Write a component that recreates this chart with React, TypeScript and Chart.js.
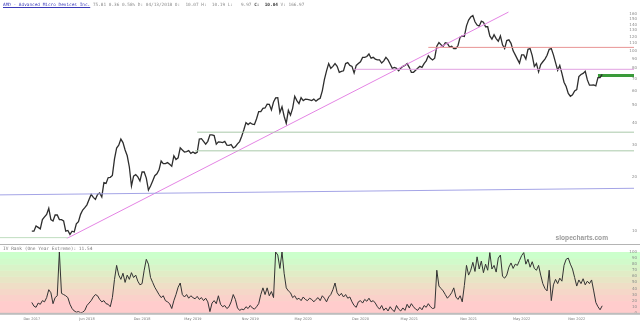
import React, { useEffect, useRef } from 'react';
import { Chart, registerables } from 'chart.js';

Chart.register(...registerables);

// Weekly closes, week 0 = first week of Dec 2017
const PRICE: number[] = [
  10.0, 10.0, 10.7, 10.5, 10.3,
  11.6, 12.0, 12.4, 13.4,
  11.6, 11.4, 12.3, 12.3,
  11.6, 11.6, 11.4, 10.0, 10.1,
  9.6, 10.0, 9.9, 11.0,
  11.3, 12.4, 13.1, 13.5,
  14.0, 15.0, 16.0, 15.4, 15.0,
  16.0, 16.3, 15.5, 18.6,
  18.4, 19.8, 19.9, 20.4, 25.2,
  28.9, 30.0, 32.4, 31.0,
  28.2, 26.2, 22.7, 17.8,
  20.2, 20.6, 20.0, 19.0, 21.3,
  21.3, 19.7, 16.9, 17.8,
  19.0, 20.3, 20.8, 21.9,
  24.5, 23.7, 23.7, 24.0,
  23.5, 22.9, 26.2, 25.0, 25.5,
  29.0, 28.2, 27.5, 27.6,
  28.0, 27.0, 27.5, 27.0, 27.4,
  32.4, 32.6, 31.5, 30.4,
  31.5, 34.2, 34.2, 33.9,
  30.4, 31.3, 31.2, 31.0, 31.5,
  30.0, 29.9, 30.2, 29.0,
  29.4, 30.5, 31.4, 33.6,
  36.5, 40.0, 39.0, 39.9, 39.2,
  39.0, 42.0, 46.0, 46.0,
  48.0, 48.2, 50.6, 50.5, 47.0,
  52.0, 54.8, 55.0, 45.5,
  49.0, 43.4, 39.6, 46.8,
  44.0, 48.0, 56.0, 53.0,
  51.0, 55.0, 53.0, 54.0, 53.8,
  53.5, 53.0, 54.0, 52.6,
  53.8, 54.6, 60.0, 69.4,
  77.4, 85.0, 80.0, 82.0, 85.0,
  82.0, 76.0, 77.0, 77.5,
  85.0, 86.0, 83.0, 82.0,
  75.3, 83.0, 85.0, 87.0, 92.0,
  92.0, 93.0, 96.0, 91.0,
  92.0, 90.0, 89.0, 89.0, 85.6,
  88.0, 92.0, 89.0, 84.5,
  80.0, 81.0, 80.0, 77.5,
  80.0, 82.0, 83.0, 85.0,
  81.0, 76.0, 76.0, 78.0, 80.0,
  82.0, 81.0, 85.0, 88.0,
  94.0, 91.0, 89.0, 91.0,
  106, 111, 108, 106, 111,
  110, 105, 106, 103,
  103, 107, 119, 121,
  120.2, 137.5, 148, 154, 157,
  145, 139, 137, 146, 144,
  136, 136, 121, 116,
  123, 117, 113, 121,
  108, 103, 114, 115,
  110, 100, 95, 90, 85.5,
  95, 95, 90, 102,
  103, 94, 82, 85,
  76.5, 84, 87, 90, 94.5,
  102, 103, 95, 86,
  78, 83, 75, 67, 63.4,
  58, 56, 57, 60,
  61, 72, 74, 75,
  77, 69, 64.5, 64.5, 64.8,
  64, 71, 71, 74,
];

const IV_RANK: number[] = [
  17, 11, 9, 16, 14, 20, 18, 25, 38, 33,
  15, 25, 28, 100, 32, 30, 28, 25, 14, 7,
  3, 1, 2, 0, 1, 4, 12, 16, 20, 26,
  30, 28, 22, 18, 20, 15, 14, 10, 25, 55,
  78, 62, 55, 65, 50, 62, 55, 66, 58, 62,
  52, 46, 48, 70, 88, 80, 58, 50, 42, 36,
  30, 25, 28, 20, 18, 15, 7, 20, 30, 42,
  49, 30, 26, 30, 24, 28, 25, 23, 27, 22,
  25, 20, 24, 18, 2, 16, 20, 15, 28, 14,
  10, 12, 7, 10, 18, 30, 22, 8, 4, 6,
  5, 10, 7, 12, 8, 6, 10, 15, 30, 41,
  30, 41, 28, 35, 25, 100, 95, 73, 100, 65,
  41, 36, 33, 25, 28, 22, 24, 20, 26, 22,
  20, 24, 22, 18, 22, 25, 20, 28, 24, 18,
  26, 30, 38, 49, 33, 28, 32, 26, 30, 24,
  26, 18, 12, 9, 18, 20, 16, 22, 19, 24,
  18, 20, 16, 10, 6, 12, 4, 8, 3, 10,
  5, 2, 12, 6, 3, 8, 4, 14, 8, 15,
  10, 6, 4, 9, 5, 12, 9, 15, 10, 7,
  8, 70, 44, 40, 36, 30, 24, 28, 33, 41,
  26, 22, 28, 18, 45, 78, 62, 70, 83, 68,
  92, 72, 85, 66, 80, 70, 99, 72, 78, 67,
  90, 95, 60, 57, 62, 75, 82, 73, 80, 78,
  86, 94, 99, 80, 88, 75, 84, 73, 70, 78,
  62, 48, 40, 36, 70, 20, 46, 55, 48, 57,
  52, 78, 88, 90, 80, 72, 58, 44, 54, 48,
  56, 46, 52, 48, 54, 36, 17, 10, 5, 11.54,
];

const TICK_WEEKS = [0, 26, 52, 76, 103, 128, 155, 178, 206, 231, 257];
const TICK_LABELS = ['Dec 2017', 'Jun 2018', 'Dec 2018', 'May 2019', 'Nov 2019', 'May 2020', 'Dec 2020', 'May 2021', 'Nov 2021', 'May 2022', 'Nov 2022'];
const PRICE_TICKS = [10, 20, 30, 40, 50, 60, 70, 80, 90, 100, 110, 120, 130, 140, 150, 160];
const IV_TICKS = [0, 10, 20, 30, 40, 50, 60, 70, 80, 90, 100];

// Drawn studies (week, price)
const TREND_X = [16.4, 224.8];
const TREND_Y = [9.1, 164];
const BLUE_X = [-15, 284];
const BLUE_Y = [15.9, 17.3];
const LEVEL_RED = { from: 187, value: 104.5 };
const LEVEL_PINK = { from: 152, value: 79 };
const LEVEL_GREEN_HI = { from: 78, value: 35.4 };
const LEVEL_GREEN_LO = { from: 77, value: 27.9 };
const LEVEL_GREEN_BASE = { from: -15, to: 17, value: 9.2 };
const LAST_LEVEL = { from: 267, value: 73 };

const X_MIN = -15;
const X_MAX = 284;
const Y_MIN = 9.1;
const Y_MAX = 178.6;

const BAND_COLORS = [
  'rgb(255,204,204)', 'rgb(255,204,204)', 'rgb(250,209,202)', 'rgb(245,215,200)',
  'rgb(239,222,198)', 'rgb(232,229,197)', 'rgb(225,236,198)', 'rgb(217,243,200)',
  'rgb(209,250,202)', 'rgb(204,255,204)',
];

const tickFont = { size: 4, family: 'DejaVu Sans' };

function seg(x0: number, x1: number, v: number) {
  return [{ x: x0, y: v }, { x: x1, y: v }];
}

export default function App() {
  const topRef = useRef<HTMLCanvasElement>(null);
  const botRef = useRef<HTMLCanvasElement>(null);

  useEffect(() => {
    document.body.style.margin = '0';
    const lastWeek = PRICE.length - 1;
    const line = (data: any[], color: string, width = 1) => ({
      data, borderColor: color, borderWidth: width, pointRadius: 0, tension: 0, fill: false,
    });

    const top = new Chart(topRef.current!, {
      type: 'line',
      data: {
        datasets: [
          line(seg(BLUE_X[0], BLUE_X[1], 0).map((p, i) => ({ x: p.x, y: BLUE_Y[i] })), '#a4a4e6', 1),
          line(seg(LEVEL_GREEN_BASE.from, LEVEL_GREEN_BASE.to, LEVEL_GREEN_BASE.value), '#b6d8b6', 1),
          line(seg(LEVEL_GREEN_HI.from, X_MAX, LEVEL_GREEN_HI.value), '#a9c9a9', 1),
          line(seg(LEVEL_GREEN_LO.from, X_MAX, LEVEL_GREEN_LO.value), '#a9c9a9', 1),
          line(seg(LEVEL_PINK.from, X_MAX, LEVEL_PINK.value), '#e2a2e2', 1),
          line(seg(LEVEL_RED.from, X_MAX, LEVEL_RED.value), '#e89494', 1),
          line([{ x: TREND_X[0], y: TREND_Y[0] }, { x: TREND_X[1], y: TREND_Y[1] }], '#e484e4', 1),
          line(PRICE.map((v, i) => ({ x: i, y: v })), '#2e2e2e', 1.3),
          line(seg(Math.min(LAST_LEVEL.from, lastWeek), X_MAX, LAST_LEVEL.value), '#3a9a3a', 3),
        ],
      },
      options: {
        animation: false,
        responsive: true,
        maintainAspectRatio: false,
        layout: { padding: 0 },
        plugins: { legend: { display: false }, tooltip: { enabled: false } },
        scales: {
          x: { type: 'linear', min: X_MIN, max: X_MAX, display: false },
          y: {
            type: 'logarithmic', position: 'right', min: Y_MIN, max: Y_MAX,
            grid: { display: false, drawTicks: false }, border: { display: false },
            afterBuildTicks: (s: any) => { s.ticks = PRICE_TICKS.map((v) => ({ value: v })); },
            ticks: { mirror: true, padding: 3, autoSkip: false, color: '#8a8a8a', font: tickFont, callback: (v: any) => String(v) },
          },
        },
      } as any,
    });

    const bandsPlugin = {
      id: 'bands',
      beforeDraw(chart: any) {
        const { ctx, scales: { y } } = chart;
        ctx.save();
        for (let i = 0; i < BAND_COLORS.length; i++) {
          const y0 = y.getPixelForValue(IV_TICKS[i + 1]);
          const y1 = y.getPixelForValue(IV_TICKS[i]);
          ctx.fillStyle = BAND_COLORS[i];
          ctx.fillRect(0, y0, chart.width, y1 - y0 + 0.5);
        }
        ctx.restore();
      },
      afterDraw(chart: any) {
        const { ctx, chartArea } = chart;
        ctx.save();
        ctx.fillStyle = '#b4b4b4';
        ctx.fillRect(0, 0, chart.width, 1);
        ctx.fillStyle = '#bdbdbd';
        ctx.fillRect(0, chartArea.bottom, chart.width, 2);
        ctx.restore();
      },
    };

    const bot = new Chart(botRef.current!, {
      type: 'line',
      data: {
        datasets: [line(IV_RANK.map((v, i) => ({ x: i, y: v })), '#333333', 1)],
      },
      options: {
        animation: false,
        responsive: true,
        maintainAspectRatio: false,
        layout: { padding: { top: 8, bottom: 5, left: 0, right: 0 } },
        plugins: { legend: { display: false }, tooltip: { enabled: false } },
        scales: {
          x: {
            type: 'linear', min: X_MIN, max: X_MAX,
            grid: { display: false, drawTicks: false }, border: { display: false },
            afterBuildTicks: (s: any) => { s.ticks = TICK_WEEKS.map((v) => ({ value: v })); },
            ticks: {
              autoSkip: false, maxRotation: 0, padding: 4, color: '#777', font: { size: 3.5, family: 'DejaVu Sans' },
              callback: (v: any) => TICK_LABELS[TICK_WEEKS.indexOf(Number(v))] ?? '',
            },
          },
          y: {
            min: 0, max: 100, position: 'right',
            grid: { display: false, drawTicks: false }, border: { display: false },
            afterBuildTicks: (s: any) => { s.ticks = IV_TICKS.map((v) => ({ value: v })); },
            ticks: { mirror: true, padding: 3, autoSkip: false, color: '#8a8a8a', font: tickFont },
          },
        },
      } as any,
      plugins: [bandsPlugin],
    });

    return () => { top.destroy(); bot.destroy(); };
  }, []);

  const mono = "'DejaVu Sans Mono', monospace";
  return (
    <div style={{ position: 'relative', width: 640, height: 330, background: '#fff', overflow: 'hidden' }}>
      <div style={{ position: 'absolute', left: 0, top: 0, width: 640, height: 244 }}>
        <canvas ref={topRef} />
      </div>
      <div style={{ position: 'absolute', left: 0, top: 244, width: 640, height: 86 }}>
        <canvas ref={botRef} />
      </div>
      <div style={{ position: 'absolute', left: 3, top: 2, fontFamily: mono, fontSize: 4.4, lineHeight: '5px', whiteSpace: 'pre', color: '#8c8c8c' }}>
        <span style={{ color: '#3a3ab8', textDecoration: 'underline' }}>AMD - Advanced Micro Devices Inc.</span>
        {' 75.81 0.36 0.58% D: 04/13/2018 O:  10.07 H:  10.19 L:   9.97 '}
        <b style={{ color: '#333' }}>C:</b>{'  '}<b style={{ color: '#333' }}>10.04</b>{' V: 166.97'}
      </div>
      <div style={{ position: 'absolute', left: 3, top: 245.5, fontFamily: mono, fontSize: 4.5, lineHeight: '5px', whiteSpace: 'pre', color: '#7a7a7a' }}>
        IV Rank (One Year Extreme): 11.54
      </div>
      <div style={{ position: 'absolute', right: 32, top: 234, fontFamily: "'Liberation Sans', Arial, sans-serif", fontWeight: 'bold', fontSize: 6.6, lineHeight: '8px', color: '#9a9a9a' }}>
        slopecharts.com
      </div>
    </div>
  );
}
